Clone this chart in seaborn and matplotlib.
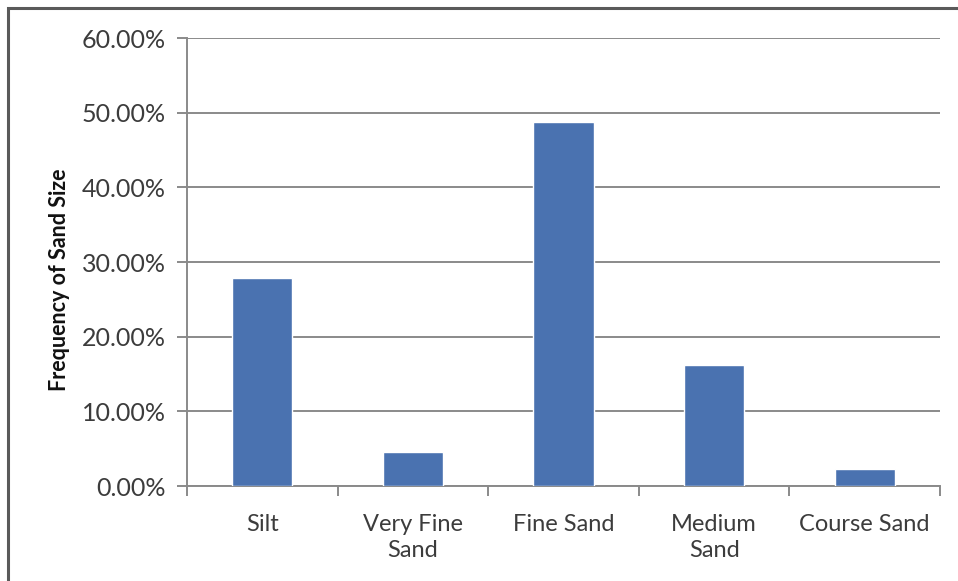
import matplotlib
matplotlib.use("Agg")
import matplotlib.pyplot as plt
from matplotlib.patches import Rectangle
from matplotlib.ticker import FuncFormatter, FixedLocator
import seaborn as sns
import pandas as pd

categories = ["Silt", "Very Fine\nSand", "Fine Sand", "Medium\nSand", "Course Sand"]
frequency = [27.9, 4.6, 48.8, 16.2, 2.3]
y_ticks = [0, 10, 20, 30, 40, 50, 60]

sns.set_style("white")
plt.rcParams["font.family"] = ["Lato", "DejaVu Sans"]

df = pd.DataFrame({"size": categories, "freq": frequency})

W, H = 958, 581
fig = plt.figure(figsize=(W / 100, H / 100), dpi=100)
ax = fig.add_axes([187 / W, 1 - 486 / H, (940 - 187) / W, (486 - 38) / H])

text_col = "#3c3c3c"
grid_col = "#8a8a8a"

sns.barplot(data=df, x="size", y="freq", order=categories, color="#4A72B0",
            width=0.4, saturation=1, ax=ax, zorder=3)

ax.set_ylim(0, 60)
ax.set_xlim(-0.5, len(categories) - 0.5)
ax.yaxis.set_major_locator(FixedLocator(y_ticks))
ax.yaxis.set_major_formatter(FuncFormatter(lambda v, p: f"{v:.2f}%"))
ax.grid(axis="y", color=grid_col, linewidth=1.4, zorder=0)
ax.set_axisbelow(True)

for s in ("top", "right"):
    ax.spines[s].set_visible(False)
for s in ("left", "bottom"):
    ax.spines[s].set_color(grid_col)
    ax.spines[s].set_linewidth(1.4)

ax.tick_params(axis="y", direction="out", length=7, width=1.4, color=grid_col,
               labelsize=18, labelcolor=text_col, pad=8, left=True)
# category labels without marks; marks sit between categories
ax.tick_params(axis="x", which="major", length=0, labelsize=17,
               labelcolor=text_col, pad=20)
ax.set_xticks([i - 0.5 for i in range(len(categories) + 1)], minor=True)
ax.tick_params(axis="x", which="minor", direction="out", length=7, width=1.4,
               color=grid_col, bottom=True)
for lbl in ax.get_xticklabels():
    lbl.set_linespacing(1.3)

ax.set_xlabel("")
ax.set_ylabel("Frequency of Sand Size", fontsize=15.5, fontweight="bold",
              color="#111111")
ax.yaxis.set_label_coords(-0.155, 0.46)

# outer chart frame
fig.patches.append(Rectangle((8 / W, -0.1), 1.2, 1 - 8 / H + 0.1,
                             transform=fig.transFigure, fill=False,
                             edgecolor="#5a5a5a", linewidth=2.2))

fig.savefig("out.png", dpi=100)
